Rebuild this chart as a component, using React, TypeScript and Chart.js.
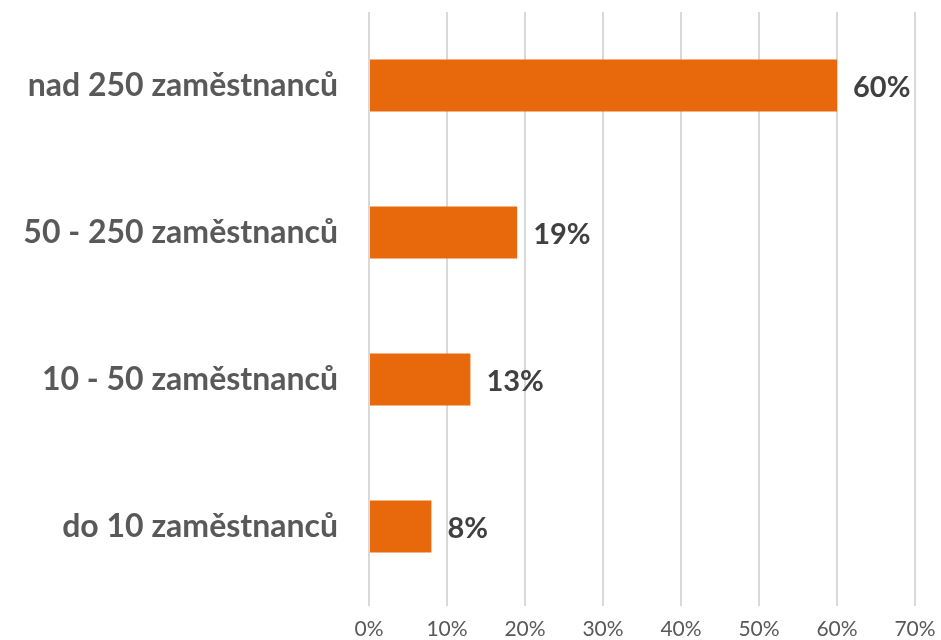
import React, { useEffect, useRef } from "react";
import { Chart, registerables } from "chart.js";

Chart.register(...registerables);

const categories = ["nad 250 zaměstnanců", "50 - 250 zaměstnanců", "10 - 50 zaměstnanců", "do 10 zaměstnanců"];
const values = [60, 19, 13, 8];
const xTicks = [0, 10, 20, 30, 40, 50, 60, 70];

const FONT = "Lato, 'Open Sans', sans-serif";

const valueLabels = {
  id: "valueLabels",
  afterDatasetsDraw(chart: any) {
    const ctx = chart.ctx;
    const meta = chart.getDatasetMeta(0);
    ctx.save();
    ctx.font = `bold 29px ${FONT}`;
    ctx.fillStyle = "#404040";
    ctx.textAlign = "left";
    ctx.textBaseline = "middle";
    meta.data.forEach((bar: any, i: number) => {
      ctx.fillText(`${values[i]}%`, bar.x + 16, bar.y + 2);
    });
    ctx.restore();
  },
};

export default function App() {
  const ref = useRef<HTMLCanvasElement>(null);
  useEffect(() => {
    document.body.style.margin = "0";
    const chart = new Chart(ref.current!, {
      type: "bar",
      data: {
        labels: categories,
        datasets: [
          {
            data: values,
            backgroundColor: "#E8690C",
            barPercentage: 0.354,
            categoryPercentage: 1,
          },
        ],
      },
      options: {
        indexAxis: "y",
        animation: false,
        responsive: false,
        layout: { padding: { top: 12, right: 0, left: 0, bottom: 0 } },
        plugins: { legend: { display: false }, tooltip: { enabled: false } },
        scales: {
          x: {
            min: 0,
            max: 70,
            afterBuildTicks(axis: any) {
              axis.ticks = xTicks.map((v) => ({ value: v }));
            },
            grid: { color: "#d9d9d9", lineWidth: 2, tickLength: 6, drawTicks: true },
            border: { display: false },
            ticks: {
              color: "#595959",
              font: { family: FONT, size: 21 },
              padding: 11,
              callback: (v: any) => `${v}%`,
            },
            afterFit(axis: any) {
              axis.height = 40;
              axis.paddingLeft = 0;
              axis.paddingRight = 26;
            },
          },
          y: {
            grid: { display: false },
            border: { display: false },
            ticks: {
              color: "#595959",
              font: { family: FONT, size: 32, weight: "bold" },
              padding: 23,
            },
            afterFit(axis: any) {
              axis.width = 369;
              axis.paddingTop = 0;
              axis.paddingBottom = 0;
            },
          },
        },
      },
      plugins: [valueLabels],
    });
    return () => chart.destroy();
  }, []);
  return (
    <div style={{ width: 941, height: 640 }}>
      <canvas ref={ref} width={941} height={640} />
    </div>
  );
}
